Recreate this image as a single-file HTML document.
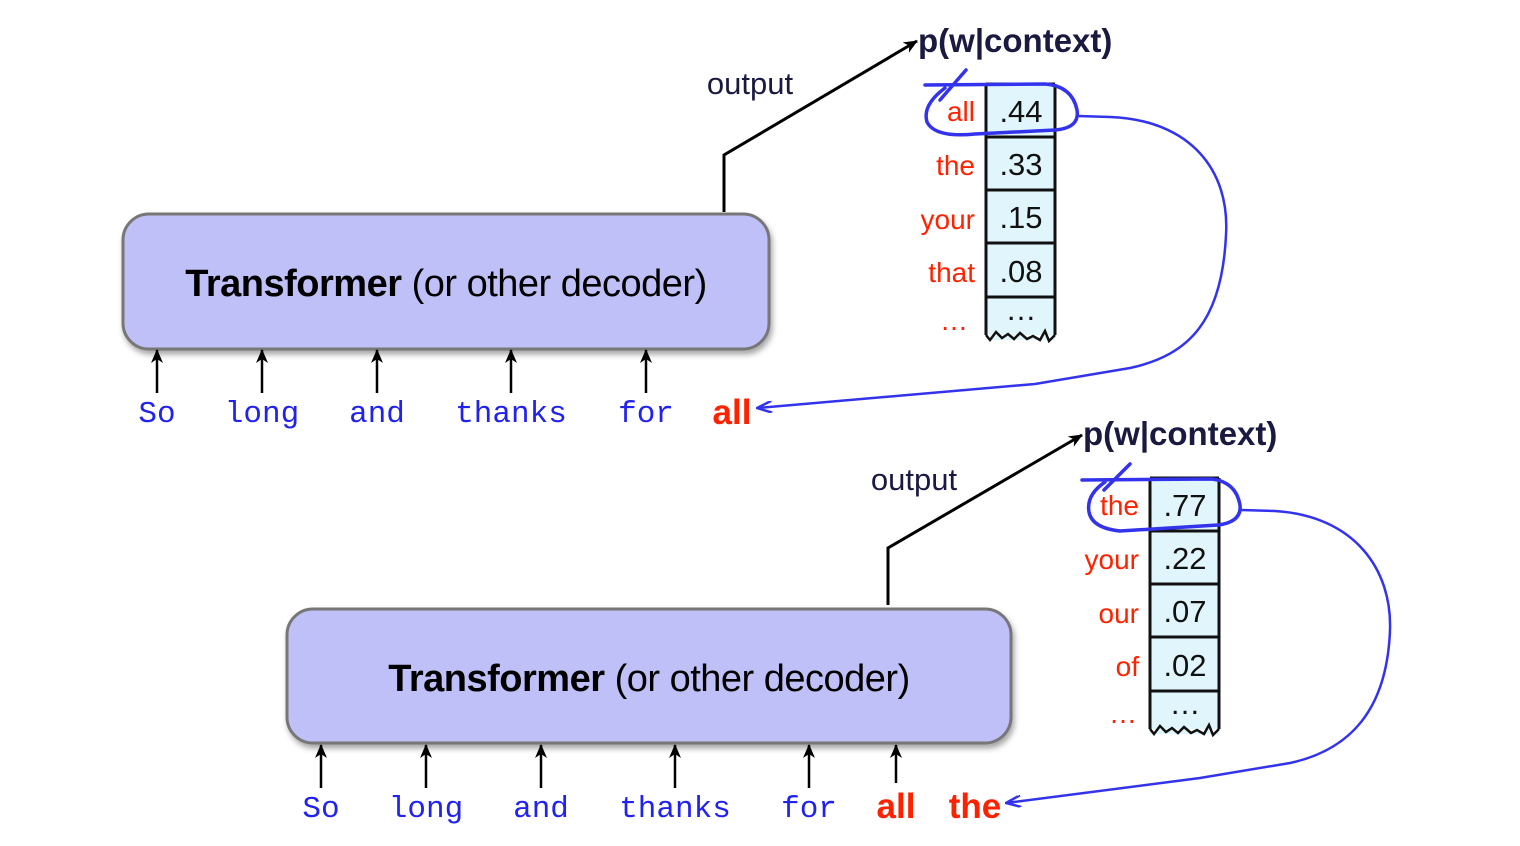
<!DOCTYPE html>
<html><head><meta charset="utf-8"><style>
html,body{margin:0;padding:0;background:#fff;}
svg{display:block;}
.t{font-family:"Liberation Sans",sans-serif;}
.m{font-family:"Liberation Mono",monospace;font-size:31px;fill:#2222ee;text-anchor:middle;}
.lab{font-family:"Liberation Sans",sans-serif;font-size:28px;fill:#ff2200;text-anchor:end;}
.val{font-family:"Liberation Sans",sans-serif;font-size:31px;fill:#111;text-anchor:middle;}
.big{font-family:"Liberation Sans",sans-serif;font-size:35px;font-weight:bold;fill:#ff2200;text-anchor:middle;}
</style></head><body>
<svg width="1520" height="846" viewBox="0 0 1520 846" xmlns="http://www.w3.org/2000/svg">
<defs>
<marker id="ak" markerWidth="14" markerHeight="12" refX="13" refY="6" orient="auto" markerUnits="userSpaceOnUse"><path d="M0,0 L14,6 L0,12 L4,6 Z" fill="#000"/></marker>
<marker id="ab" markerWidth="16" markerHeight="12" refX="15" refY="6" orient="auto" markerUnits="userSpaceOnUse"><path d="M0,0 L15,6 L0,12" fill="none" stroke="#3333ee" stroke-width="2.5"/></marker>
<filter id="sh" x="-5%" y="-10%" width="110%" height="130%"><feDropShadow dx="2" dy="4" stdDeviation="3" flood-color="#000" flood-opacity="0.35"/></filter>
<g id="tbl">
<rect x="986" y="84" width="69" height="256" fill="#e0f6fc"/>
<path d="M986,84 L1055,84 M986,137 L1055,137 M986,190 L1055,190 M986,243 L1055,243 M986,297 L1055,297 M986,84 L986,335 M1055,84 L1055,335" stroke="#111" stroke-width="3" fill="none"/>
<path d="M986,335 L990,340 L996,332 L1002,338 L1008,334 L1014,339 L1020,333 L1027,339 L1033,336 L1040,340 L1045,331 L1049,341 L1055,335" stroke="#111" stroke-width="2.5" fill="#fff"/>
<text class="val" x="1021" y="320">…</text>
</g>
</defs>

<!-- Panel 1 -->
<rect x="123" y="214" width="646" height="135" rx="26" fill="#c0c0f8" stroke="#777" stroke-width="3" filter="url(#sh)"/>
<text class="t" x="446" y="296" font-size="38" text-anchor="middle" fill="#000" letter-spacing="-0.5"><tspan font-weight="bold">Transformer</tspan> (or other decoder)</text>
<g stroke="#000" stroke-width="2.5" marker-end="url(#ak)">
<line x1="157" y1="393" x2="157" y2="350"/><line x1="262" y1="393" x2="262" y2="350"/><line x1="377" y1="393" x2="377" y2="350"/><line x1="511" y1="393" x2="511" y2="350"/><line x1="646" y1="393" x2="646" y2="350"/>
</g>
<text class="m" x="157" y="422">So</text><text class="m" x="262" y="422">long</text><text class="m" x="377" y="422">and</text><text class="m" x="511" y="422">thanks</text><text class="m" x="646" y="422">for</text>
<text class="big" x="732" y="424">all</text>
<path d="M724,212 L724,155 L917,41" fill="none" stroke="#000" stroke-width="3" marker-end="url(#ak)"/>
<text class="t" x="750" y="94" font-size="31" text-anchor="middle" fill="#1a1a40">output</text>
<text class="t" x="918" y="52" font-size="33" font-weight="bold" fill="#1a1a40">p(w|context)</text>
<use href="#tbl"/>
<text class="val" x="1021" y="122">.44</text><text class="val" x="1021" y="175">.33</text><text class="val" x="1021" y="228">.15</text><text class="val" x="1021" y="282">.08</text>
<text class="lab" x="975" y="121">all</text><text class="lab" x="975" y="175">the</text><text class="lab" x="975" y="229">your</text><text class="lab" x="975" y="282">that</text><text class="lab" x="968" y="330">…</text>
<g fill="none" stroke="#3333ee" stroke-width="3.5" stroke-linecap="round">
<path d="M925,85 L1045,84 Q1072,86 1077,110 Q1080,128 1055,130 L975,134 Q935,138 927,122 Q922,105 945,88"/>
<path d="M940,100 L966,70"/>
</g>
<path d="M1078,116 L1110,117 C1190,120 1230,170 1226,235 C1222,320 1190,355 1130,368 L1035,384 L757,408" fill="none" stroke="#3333ee" stroke-width="2.5" marker-end="url(#ab)"/>

<!-- Panel 2 -->
<rect x="287" y="609" width="724" height="134" rx="26" fill="#c0c0f8" stroke="#777" stroke-width="3" filter="url(#sh)"/>
<text class="t" x="649" y="691" font-size="38" text-anchor="middle" fill="#000" letter-spacing="-0.5"><tspan font-weight="bold">Transformer</tspan> (or other decoder)</text>
<g stroke="#000" stroke-width="2.5" marker-end="url(#ak)">
<line x1="321" y1="788" x2="321" y2="745"/><line x1="426" y1="788" x2="426" y2="745"/><line x1="541" y1="788" x2="541" y2="745"/><line x1="675" y1="788" x2="675" y2="745"/><line x1="809" y1="788" x2="809" y2="745"/><line x1="896" y1="783" x2="896" y2="745"/>
</g>
<text class="m" x="321" y="817">So</text><text class="m" x="426" y="817">long</text><text class="m" x="541" y="817">and</text><text class="m" x="675" y="817">thanks</text><text class="m" x="809" y="817">for</text>
<text class="big" x="896" y="818">all</text><text class="big" x="975" y="818">the</text>
<path d="M888,605 L888,548 L1082,435" fill="none" stroke="#000" stroke-width="3" marker-end="url(#ak)"/>
<text class="t" x="914" y="490" font-size="31" text-anchor="middle" fill="#1a1a40">output</text>
<text class="t" x="1083" y="445" font-size="33" font-weight="bold" fill="#1a1a40">p(w|context)</text>
<use href="#tbl" transform="translate(164,394)"/>
<text class="val" x="1185" y="516">.77</text><text class="val" x="1185" y="569">.22</text><text class="val" x="1185" y="622">.07</text><text class="val" x="1185" y="676">.02</text>
<text class="lab" x="1139" y="515">the</text><text class="lab" x="1139" y="569">your</text><text class="lab" x="1139" y="623">our</text><text class="lab" x="1139" y="676">of</text><text class="lab" x="1137" y="723">…</text>
<g fill="none" stroke="#3333ee" stroke-width="3.5" stroke-linecap="round">
<path d="M1082,480 L1212,479 Q1236,482 1240,505 Q1242,522 1218,525 L1120,531 Q1092,528 1089,512 Q1086,495 1105,482"/>
<path d="M1104,490 L1130,464"/>
</g>
<path d="M1241,510 L1275,511 C1355,516 1392,570 1390,630 C1387,710 1350,750 1290,763 L1200,778 L1006,803" fill="none" stroke="#3333ee" stroke-width="2.5" marker-end="url(#ab)"/>
</svg>
</body></html>
